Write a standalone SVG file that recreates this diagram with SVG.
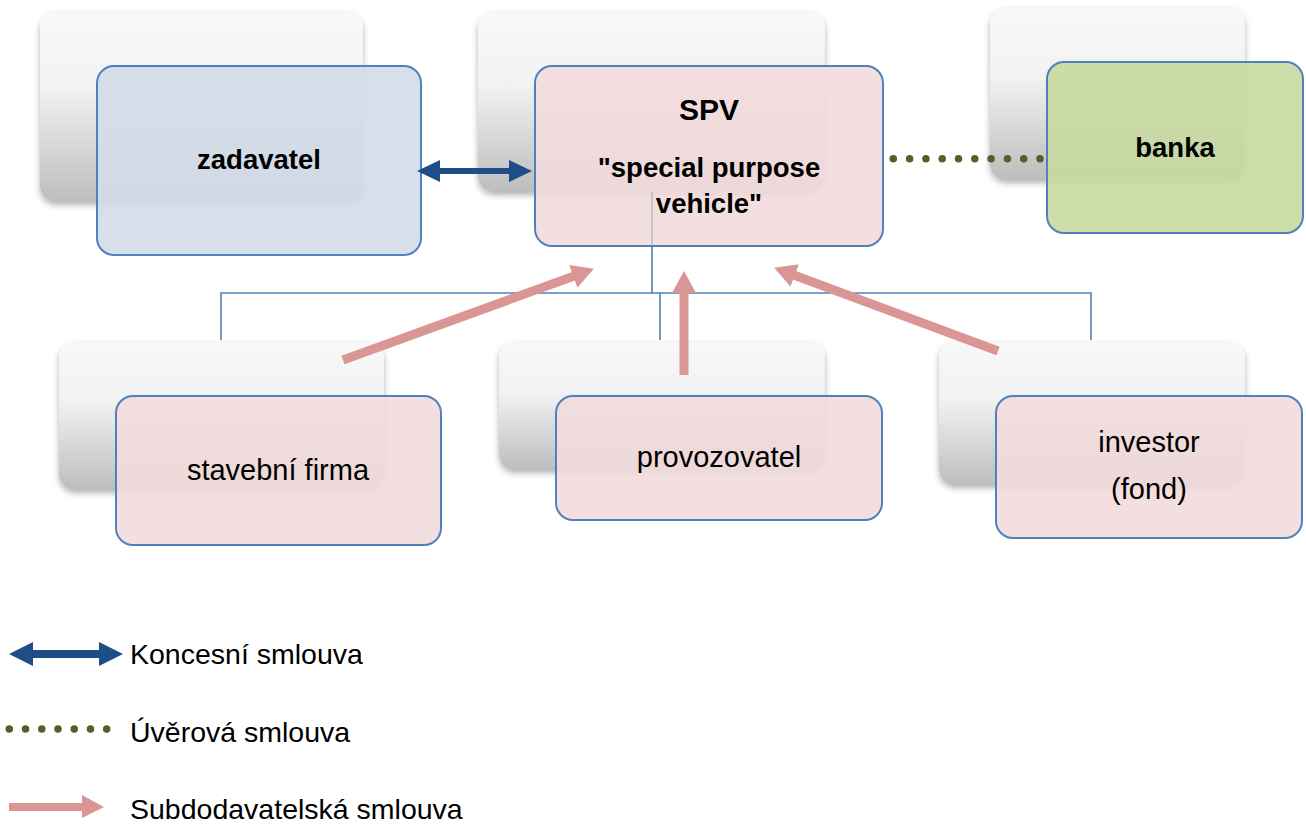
<svg xmlns="http://www.w3.org/2000/svg" width="1306" height="824" viewBox="0 0 1306 824">
<defs>
<linearGradient id="shadeGrad" x1="0" y1="0" x2="0" y2="1">
<stop offset="0" stop-color="#f8f8f8"/>
<stop offset="0.4" stop-color="#f2f2f2"/>
<stop offset="1" stop-color="#bdbdbd"/>
</linearGradient>
<filter id="drop" x="-10%" y="-10%" width="120%" height="130%">
<feDropShadow dx="0" dy="3" stdDeviation="3" flood-color="#000" flood-opacity="0.3"/>
</filter>
<marker id="pinkHead" viewBox="0 0 22 24" refX="4" refY="12" markerWidth="22" markerHeight="24" markerUnits="userSpaceOnUse" orient="auto">
<path d="M0,0 L22,12 L0,24 z" fill="#D99694"/>
</marker>
</defs>
<style>
.shade{fill:url(#shadeGrad);filter:url(#drop)}
.front{stroke:#4F81BD;stroke-width:2;fill-opacity:0.9}
.blue{fill:#D3DBE9}
.pink{fill:#F2DCDB}
.green{fill:#C6D9A1}
.bold{font-family:"Liberation Sans",Arial,sans-serif;font-weight:bold;font-size:27.5px;fill:#000;text-anchor:middle}
.reg{font-family:"Liberation Sans",Arial,sans-serif;font-size:29px;fill:#000;text-anchor:middle}
.leg{font-family:"Liberation Sans",Arial,sans-serif;font-size:28.5px;fill:#000}
.tree{stroke:#4F81BD;stroke-width:1.6;fill:none}
.sub{stroke:#D99694;stroke-width:9;fill:none;marker-end:url(#pinkHead)}
.dots{stroke:#4F6228;stroke-width:7.5;stroke-linecap:round;fill:none}
</style>
<g id="node-zadavatel">
<rect class="shade" x="40" y="12" width="323" height="190" rx="16"/>
<rect class="front blue" x="97" y="66" width="324" height="189" rx="17"/>
<text class="bold" x="259" y="169">zadavatel</text>
</g>
<g id="node-spv">
<rect class="shade" x="478" y="12" width="347" height="180" rx="16"/>
<rect class="front pink" x="535" y="66" width="348" height="180" rx="17"/>
<text class="bold" x="709" y="120" style="font-size:30px">SPV</text>
<text class="bold" x="709" y="177">"special purpose</text>
<text class="bold" x="709" y="213">vehicle"</text>
</g>
<g id="node-banka">
<rect class="shade" x="990" y="8" width="255" height="172" rx="16"/>
<rect class="front green" x="1047" y="62" width="256" height="171" rx="17"/>
<text class="bold" x="1175" y="157">banka</text>
</g>
<g id="node-stavebni">
<rect class="shade" x="59" y="342" width="325" height="148" rx="16"/>
<rect class="front pink" x="116" y="396" width="325" height="149" rx="17"/>
<text class="reg" x="278" y="480">stavební firma</text>
</g>
<g id="node-provozovatel">
<rect class="shade" x="499" y="342" width="326" height="128" rx="16"/>
<rect class="front pink" x="556" y="396" width="326" height="124" rx="17"/>
<text class="reg" x="719" y="467">provozovatel</text>
</g>
<g id="node-investor">
<rect class="shade" x="939" y="342" width="306" height="143" rx="16"/>
<rect class="front pink" x="996" y="396" width="306" height="142" rx="17"/>
<text class="reg" x="1149" y="452">investor</text>
<text class="reg" x="1149" y="499">(fond)</text>
</g>
<g id="connectors">
<path class="tree" d="M652,192 V246" stroke-opacity="0.35"/>
<path class="tree" d="M652,246 V293 H221 V340"/>
<path class="tree" d="M652,293 H660 V340"/>
<path class="tree" d="M660,293 H1091 V340"/>
<line class="sub" x1="343" y1="360" x2="577" y2="275"/>
<line class="sub" x1="684" y1="375" x2="684" y2="289"/>
<line class="sub" x1="998" y1="351" x2="791" y2="274"/>
<polygon fill="#1F4E86" points="417,171 440,160 440,168 509,168 509,160 532,171 509,182 509,174 440,174 440,182"/>
<line class="dots" x1="893.3" y1="158.7" x2="1040" y2="158.7" stroke-dasharray="0 16.3"/>
</g>
<g id="legend">
<polygon fill="#1F4E86" points="9,654 33,642 33,650 99,650 99,642 123,654 99,666 99,658 33,658 33,666"/>
<text class="leg" x="130" y="664">Koncesní smlouva</text>
<line class="dots" x1="9.3" y1="729" x2="106.7" y2="729" stroke-dasharray="0 16.23"/>
<text class="leg" x="130" y="742">Úvěrová smlouva</text>
<polygon fill="#D99694" points="9,803 82,803 82,795 104,807 82,818 82,811 9,811"/>
<text class="leg" x="130" y="819">Subdodavatelská smlouva</text>
</g>
</svg>
